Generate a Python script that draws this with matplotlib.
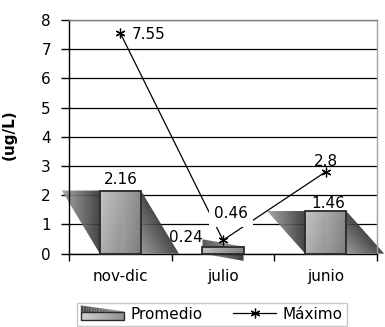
import numpy as np
import matplotlib
matplotlib.use("Agg")
import matplotlib.pyplot as plt
from matplotlib.patches import Polygon, Rectangle
from matplotlib.lines import Line2D
from matplotlib.legend_handler import HandlerBase

# ---- data ----
categories = ["nov-dic", "julio", "junio"]
promedio = [2.16, 0.24, 1.46]
maximo = [7.55, 0.46, 2.8]
y_ticks = [0, 1, 2, 3, 4, 5, 6, 7, 8]

plt.rcParams['font.family'] = ['DejaVu Sans']
FS = 11

fig = plt.figure(figsize=(3.85, 3.27), dpi=100)
ax = fig.add_axes([69 / 385, 1 - 253.6 / 327, 308 / 385, 233.6 / 327])

xs = np.arange(len(categories))
W = 0.40      # width of the front face
D = 0.37      # horizontal shear of the back face (tall bars)
B = 0.25      # vertical shear of the back face (short bars)


def gradient_fill(verts, func, z=2, alpha=0.92):
    """Fill a polygon (data coords) with a grey tone computed by func(X, Y)."""
    verts = np.asarray(verts)
    x0, y0 = verts.min(axis=0)
    x1, y1 = verts.max(axis=0)
    gx = np.linspace(x0, x1, 120)
    gy = np.linspace(y0, y1, 120)
    X, Y = np.meshgrid(gx, gy)
    val = np.clip(func(X, Y), 0, 1)
    poly = Polygon(verts, closed=True, transform=ax.transData,
                   facecolor='none', edgecolor='none')
    im = ax.imshow(val, extent=[x0, x1, y0, y1], origin='lower', cmap='gray',
                   vmin=0, vmax=1, aspect='auto', interpolation='bilinear',
                   zorder=z, alpha=alpha)
    im.set_clip_path(poly)
    im.set_clip_box(fig.bbox)
    return im


for xc, v in zip(xs, promedio):
    L, R = xc - W / 2, xc + W / 2
    if v > 1.0:
        back = [(L - D, v), (R, v), (R + D, 0), (L, 0)]

        def f_back(X, Y, L=L, R=R, v=v):
            left = np.interp(X, [L - D, L], [0.62, 0.20])
            xe = R + D * (1 - Y / v)
            t = np.clip((xe - X) / D, 0, 1)
            right = 0.22 + 0.36 * t
            return np.where(X < (L + R) / 2, left, right)
    else:
        back = [(L, v + B), (R, v), (R, -B), (L, 0)]

        def f_back(X, Y, L=L, R=R, v=v):
            up = np.interp(X, [L, R], [0.30, 0.62])
            low = np.interp(X, [L, R], [0.62, 0.18])
            return np.where(Y > v / 2, up, low)

    gradient_fill(back, f_back, z=2)

    face = [(L, 0), (R, 0), (R, v), (L, v)]

    def f_face(X, Y, L=L, v=v):
        return 0.80 - 0.24 * (X - L) / W - 0.08 * (1 - Y / v)

    gradient_fill(face, f_face, z=2.2, alpha=0.95)
    ax.add_patch(Rectangle((L, 0), W, v, fill=False, edgecolor='#2a2a2a',
                           lw=1.3, zorder=3, clip_on=False))

# Máximo line
ax.plot(xs, maximo, color='black', lw=0.9, marker=(6, 2, 0), ms=7, mew=0.9,
        zorder=4, clip_on=False)

# data labels
lab_kw = dict(textcoords='offset pixels', fontsize=FS, zorder=6)
ax.annotate(f"{maximo[0]:g}", (xs[0], maximo[0]), xytext=(11, 0),
            ha='left', va='center_baseline', **lab_kw)
ax.annotate(f"{maximo[1]:g}", (xs[1], maximo[1]), xytext=(8, 22),
            ha='center', va='baseline',
            bbox=dict(boxstyle='square,pad=0.35', fc='white', ec='none'),
            **lab_kw)
ax.annotate(f"{maximo[2]:g}", (xs[2], maximo[2]), xytext=(0, 6),
            ha='center', va='baseline', **lab_kw)
ax.annotate(f"{promedio[0]:g}", (xs[0], promedio[0]), xytext=(0, 7),
            ha='center', va='baseline', **lab_kw)
ax.annotate(f"{promedio[1]:g}", (xs[1] - W / 2, promedio[1]), xytext=(0, 5),
            ha='right', va='baseline', **lab_kw)
ax.annotate(f"{promedio[2]:g}", (xs[2], promedio[2]), xytext=(3, 3),
            ha='center', va='baseline', **lab_kw)

# axes styling
ax.set_xlim(-0.5, len(categories) - 0.5)
ax.set_ylim(0, 8)
ax.set_yticks(y_ticks)
ax.set_yticklabels([str(t) for t in y_ticks])
ax.yaxis.grid(True, color='black', lw=0.9)
ax.set_axisbelow(True)
ax.tick_params(axis='y', direction='out', length=6, width=1, pad=7,
               labelsize=FS, colors='black')

ax.set_xticks(np.arange(len(categories) + 1) - 0.5)
ax.set_xticklabels([])
ax.set_xticks(xs, minor=True)
ax.set_xticklabels(categories, minor=True)
ax.tick_params(axis='x', which='major', direction='out', length=5, width=1)
ax.tick_params(axis='x', which='minor', length=0, pad=11, labelsize=FS)

ax.spines['left'].set_color('black')
ax.spines['bottom'].set_color('black')
ax.spines['top'].set_color('#808080')
ax.spines['right'].set_color('#a0a0a0')
for s in ax.spines.values():
    s.set_linewidth(1)

ax.set_ylabel('(ug/L)', fontsize=11, fontweight='bold')
ax.yaxis.set_label_coords(-0.17, 0.508)


# legend swatch for the bar series
class BarSwatch(HandlerBase):
    def create_artists(self, legend, orig_handle, xdescent, ydescent,
                       width, height, fontsize, trans):
        x0, y0 = -xdescent, -ydescent
        h = height
        arts = []
        n = 16
        for i in range(n):
            xa = x0 + width * i / n
            xb = x0 + width * (i + 1) / n
            ta = i / n
            tb = (i + 1) / n
            top_a = y0 + h * (1.25 - 0.55 * ta)
            top_b = y0 + h * (1.25 - 0.55 * tb)
            g = 0.30 + 0.30 * (i / (n - 1))
            arts.append(Polygon([(xa, y0 + 0.62 * h), (xb, y0 + 0.62 * h),
                                 (xb, top_b), (xa, top_a)], closed=True,
                                fc=str(g), ec='none', transform=trans))
            g2 = 0.82 - 0.25 * (i / (n - 1))
            arts.append(Rectangle((xa, y0 - 0.1 * h), xb - xa, 0.72 * h,
                                  fc=str(g2), ec='none', transform=trans))
        arts.append(Rectangle((x0, y0 - 0.1 * h), width, 0.72 * h, fill=False,
                              ec='#2a2a2a', lw=1.0, transform=trans))
        return arts


bar_handle = Rectangle((0, 0), 1, 1)
line_handle = Line2D([], [], color='black', lw=0.9, marker=(6, 2, 0), ms=7,
                     mew=0.9)
leg = fig.legend([bar_handle, line_handle], ["Promedio", "Máximo"],
                 loc='upper left', bbox_to_anchor=(77 / 385, 1 - 303 / 327),
                 ncol=2, frameon=True, fancybox=False, edgecolor='#bbbbbb',
                 handlelength=2.8, handleheight=0.7, handletextpad=0.45,
                 columnspacing=2.0, borderpad=0.25, borderaxespad=0,
                 fontsize=FS, handler_map={Rectangle: BarSwatch()})
leg.get_frame().set_linewidth(1)

fig.savefig("out.png", dpi=100)
